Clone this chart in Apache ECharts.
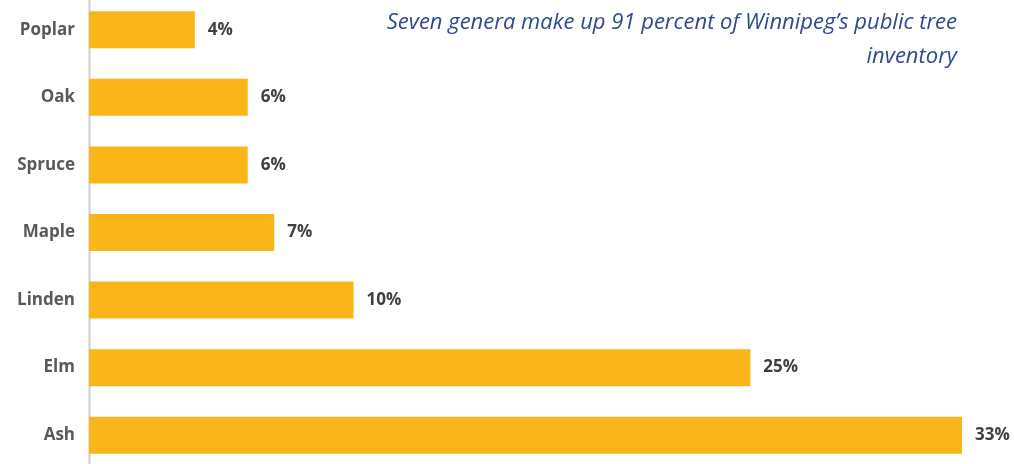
<!DOCTYPE html>
<html>
<head>
<meta charset="utf-8">
<style>
  html, body { margin: 0; padding: 0; background: #fff; overflow: hidden; }
  #wrap { position: relative; width: 1014px; height: 464px; overflow: hidden; }
  #chart { position: absolute; left: 0; top: -5px; width: 1014px; height: 480px; }
</style>
<script src="https://cdn.jsdelivr.net/npm/echarts@6/dist/echarts.min.js"></script>
</head>
<body>
<div id="wrap"><div id="chart"></div></div>
<script>
// Share of Winnipeg's public tree inventory by genus (percent)
const genera = ['Ash', 'Elm', 'Linden', 'Maple', 'Spruce', 'Oak', 'Poplar'];
const shares = [33, 25, 10, 7, 6, 6, 4];
const headlineLines = ['Seven genera make up 91 percent of Winnipeg\u2019s public tree', 'inventory'];

const chart = echarts.init(document.getElementById('chart'));
chart.setOption({
  animation: false,
  // right-aligned italic headline, one text element per line
  graphic: headlineLines.map((line, i) => ({
    type: 'text',
    style: {
      x: 957,
      y: 28 + i * 34,
      text: line,
      align: 'right',
      verticalAlign: 'middle',
      font: 'italic 22px "Open Sans"',
      fill: '#2f4b8e'
    }
  })),
  grid: { left: 89, right: 52, top: 1, height: 473, containLabel: false },
  xAxis: {
    type: 'value',
    min: 0,
    max: 33,
    show: false
  },
  yAxis: {
    type: 'category',
    data: genera,
    axisLine: { show: true, lineStyle: { color: '#d9d9d9', width: 2.5 } },
    axisTick: { show: false },
    axisLabel: {
      margin: 14,
      fontFamily: 'Open Sans',
      fontWeight: 'bold',
      fontSize: 17,
      color: '#595959'
    }
  },
  series: [{
    type: 'bar',
    data: shares,
    barWidth: 37,
    itemStyle: { color: '#f9b51a' },
    label: {
      show: true,
      position: 'right',
      distance: 13,
      formatter: p => p.value + '%',
      fontFamily: 'Open Sans',
      fontWeight: 'bold',
      fontSize: 17,
      color: '#404040'
    }
  }]
});
</script>
</body>
</html>
